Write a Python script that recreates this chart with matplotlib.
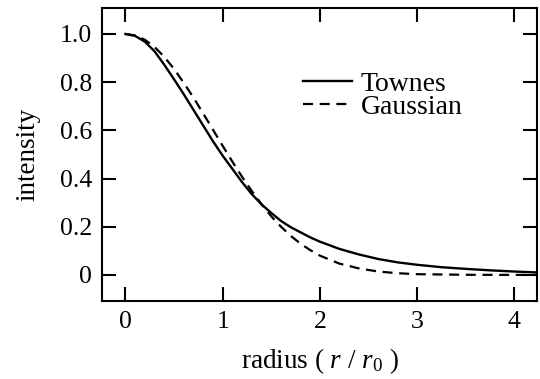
import numpy as np
import matplotlib
matplotlib.use('Agg')
import matplotlib.pyplot as plt

# values
radius_townes = [0.0, 0.1, 0.2, 0.3, 0.4, 0.5, 0.6, 0.7, 0.8, 0.9, 1.0,
                 1.1, 1.2, 1.3, 1.4, 1.5, 1.6, 1.7, 1.8, 1.9, 2.0,
                 2.2, 2.4, 2.6, 2.8, 3.0, 3.25, 3.5, 3.75, 4.0, 4.25]
intensity_townes = [1.000, 0.992, 0.968, 0.928, 0.872, 0.812, 0.750, 0.685, 0.620, 0.555, 0.495,
                    0.440, 0.385, 0.335, 0.293, 0.257, 0.224, 0.198, 0.177, 0.156, 0.138,
                    0.108, 0.085, 0.066, 0.052, 0.042, 0.032, 0.025, 0.019, 0.014, 0.010]

radius_gauss = [0.0, 0.1, 0.2, 0.3, 0.4, 0.5, 0.6, 0.7, 0.8, 0.9, 1.0,
                1.1, 1.2, 1.3, 1.4, 1.5, 1.6, 1.7, 1.8, 1.9, 2.0,
                2.2, 2.4, 2.6, 2.8, 3.0, 3.5, 4.0, 4.25]
intensity_gauss = [1.000, 0.994, 0.976, 0.946, 0.905, 0.855, 0.797, 0.736, 0.670, 0.603, 0.536,
                   0.470, 0.407, 0.348, 0.293, 0.243, 0.200, 0.162, 0.130, 0.103, 0.080,
                   0.047, 0.027, 0.014, 0.007, 0.003, 0.0005, 0.0, 0.0]

xticks = [0, 1, 2, 3, 4]
yticks = [0, 0.2, 0.4, 0.6, 0.8, 1.0]
ytick_labels = ['0', '0.2', '0.4', '0.6', '0.8', '1.0']

plt.rcParams['font.family'] = ['Liberation Serif', 'DejaVu Serif']
plt.rcParams['mathtext.fontset'] = 'custom'
plt.rcParams['mathtext.rm'] = 'Liberation Serif'
plt.rcParams['mathtext.it'] = 'Liberation Serif:italic'

fig = plt.figure(figsize=(5.4, 3.79), dpi=100)
ax = fig.add_axes([0.189, 0.206, 0.805, 0.773])

ax.plot(radius_townes, intensity_townes, color='black', lw=1.7, label='Townes')
ax.plot(radius_gauss, intensity_gauss, color='black', lw=1.6, dashes=(4.5, 3), label='Gaussian')

ax.set_xlim(-0.24, 4.23)
ax.set_ylim(-0.108, 1.108)
ax.set_xticks(xticks)
ax.set_yticks(yticks)
ax.set_yticklabels(ytick_labels)
ax.tick_params(direction='in', length=10, width=1.5, top=True, right=True,
               labelsize=18.5, pad=7)
for s in ax.spines.values():
    s.set_linewidth(1.5)

ax.set_xlabel(r'radius ( $r$ / $r_0$ )', fontsize=19.5, labelpad=10)
ax.set_ylabel('intensity', fontsize=19.5, labelpad=14)

ax.legend(loc='center left', bbox_to_anchor=(0.462, 0.70), frameon=False,
          fontsize=20, handlelength=1.76, handletextpad=0.32, labelspacing=-0.08,
          borderpad=0, borderaxespad=0)

fig.savefig('out.png', dpi=100)
